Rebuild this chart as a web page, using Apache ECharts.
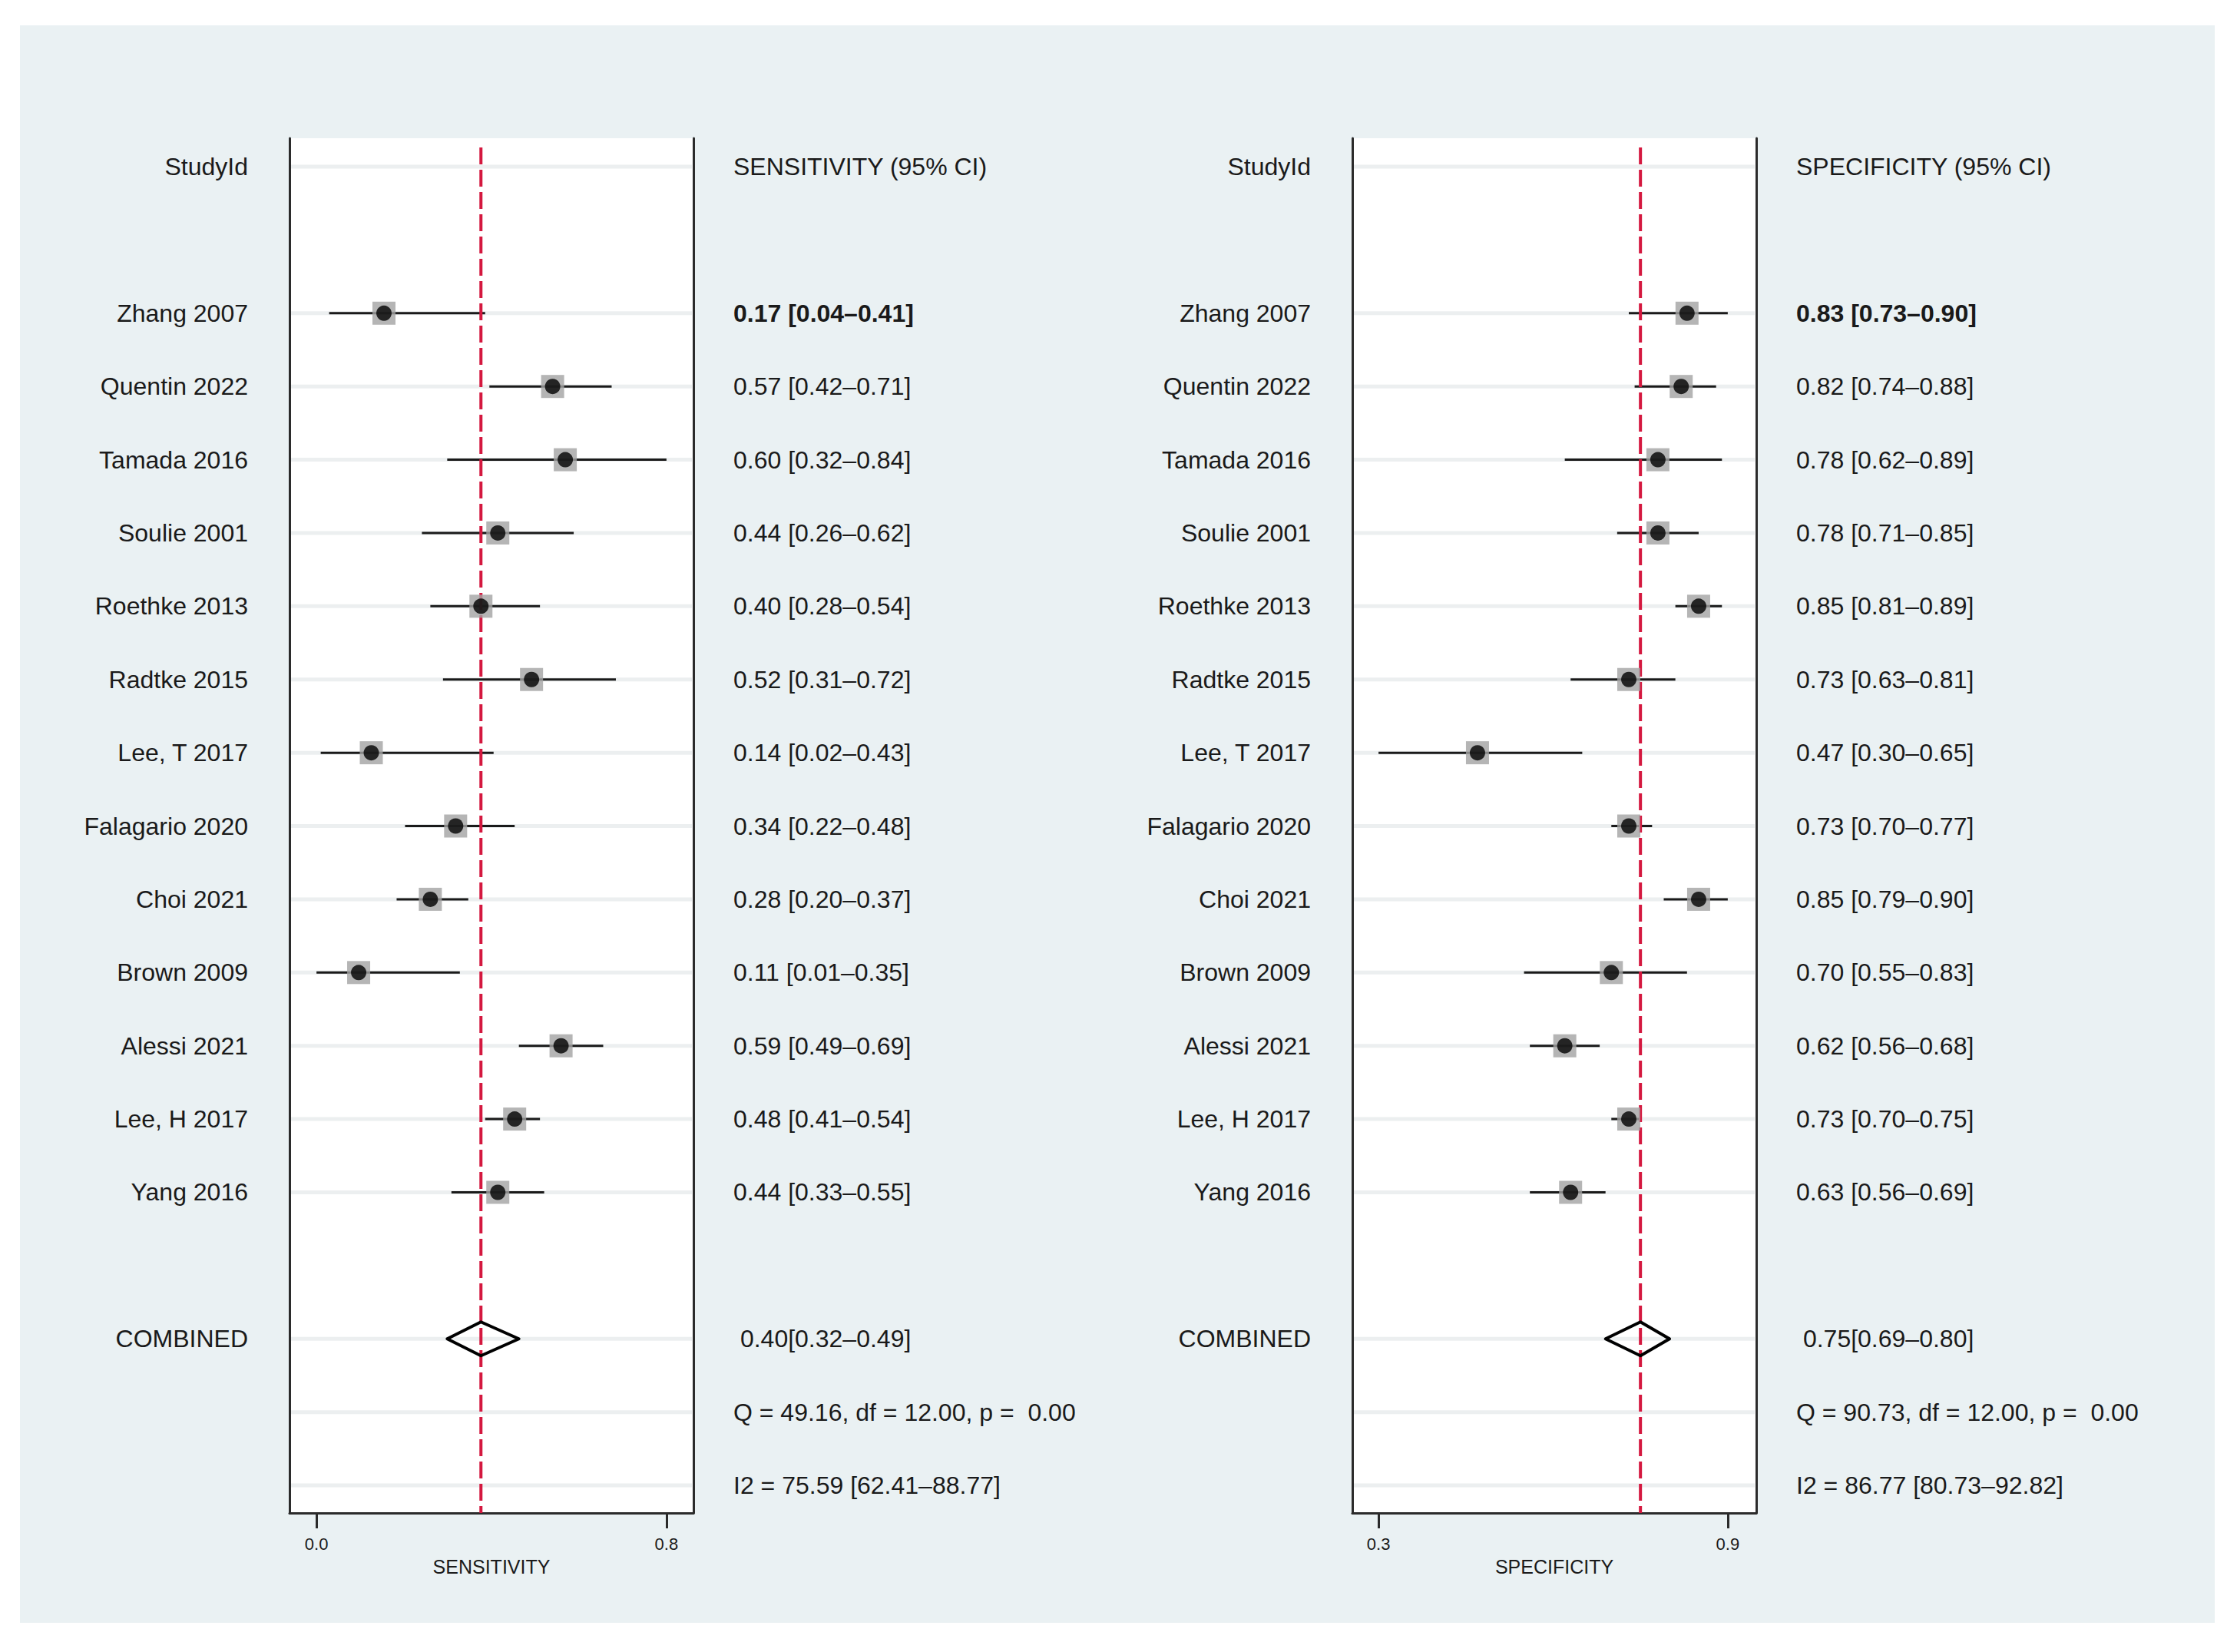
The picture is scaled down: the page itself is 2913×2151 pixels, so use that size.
<!DOCTYPE html>
<html><head><meta charset="utf-8">
<script src="https://cdn.jsdelivr.net/npm/echarts@6/dist/echarts.min.js"></script>
<style>html,body{margin:0;padding:0;background:#fff;}#chart{width:2913px;height:2151px;}</style>
</head><body><div id="chart"></div>
<script>
// ---------- data ----------
const studies = ['Zhang 2007','Quentin 2022','Tamada 2016','Soulie 2001','Roethke 2013','Radtke 2015','Lee, T 2017','Falagario 2020','Choi 2021','Brown 2009','Alessi 2021','Lee, H 2017','Yang 2016'];
const sensEst = [0.17,0.57,0.60,0.44,0.40,0.52,0.14,0.34,0.28,0.11,0.59,0.48,0.44];
const sensLo  = [0.04,0.42,0.32,0.26,0.28,0.31,0.02,0.22,0.20,0.01,0.49,0.41,0.33];
const sensHi  = [0.41,0.71,0.84,0.62,0.54,0.72,0.43,0.48,0.37,0.35,0.69,0.54,0.55];
const specEst = [0.83,0.82,0.78,0.78,0.85,0.73,0.47,0.73,0.85,0.70,0.62,0.73,0.63];
const specLo  = [0.73,0.74,0.62,0.71,0.81,0.63,0.30,0.70,0.79,0.55,0.56,0.70,0.56];
const specHi  = [0.90,0.88,0.89,0.85,0.89,0.81,0.65,0.77,0.90,0.83,0.68,0.75,0.69];
const sensPooled = [0.40,0.32,0.49];   // estimate, lower, upper
const specPooled = [0.75,0.69,0.80];
const sensQ = [49.16,12.00,0.00];      // Q, df, p
const specQ = [90.73,12.00,0.00];
const sensI2 = [75.59,62.41,88.77];
const specI2 = [86.77,80.73,92.82];
const sensTicks = [0.01,0.84];
const sensTickLabels = ['0.0','0.8'];
const specTicks = [0.30,0.90];
const specTickLabels = ['0.3','0.9'];

// ---------- layout ----------
const FONT = '"Liberation Sans", Arial, sans-serif';
const TXT = '#1a1a1a';
const ROW_HEAD = 0, ROW_COMB = 16, ROW_Q = 17, ROW_I2 = 18;
const studyRows = studies.map((_, i) => i + 2);
const contentRows = [ROW_HEAD, ...studyRows, ROW_COMB, ROW_Q, ROW_I2];
const f2 = v => v.toFixed(2);

function buildPanel(idx, cfg) {
  const yL = idx * 2;
  const leftText = r => r === ROW_HEAD ? 'StudyId' : r === ROW_COMB ? 'COMBINED' : (r >= 2 && r <= 14 ? studies[r - 2] : '');
  const rightText = r => {
    if (r === ROW_HEAD) return cfg.header;
    if (r >= 2 && r <= 14) {
      const i = r - 2;
      const s = f2(cfg.est[i]) + ' [' + f2(cfg.lo[i]) + '\u2013' + f2(cfg.hi[i]) + ']';
      return i === 0 ? '{b|' + s + '}' : s;
    }
    if (r === ROW_COMB) return ' ' + f2(cfg.pooled[0]) + '[' + f2(cfg.pooled[1]) + '\u2013' + f2(cfg.pooled[2]) + ']';
    if (r === ROW_Q) return 'Q = ' + f2(cfg.q[0]) + ', df = ' + f2(cfg.q[1]) + ', p =  ' + f2(cfg.q[2]);
    if (r === ROW_I2) return 'I2 = ' + f2(cfg.i2[0]) + ' [' + f2(cfg.i2[1]) + '\u2013' + f2(cfg.i2[2]) + ']';
    return '';
  };
  const grid = {left: cfg.left, top: 180, width: 526, height: 1790, show: true,
    backgroundColor: '#ffffff', borderWidth: 0, containLabel: false, outerBoundsMode: 'none'};
  const xAxis = {
    gridIndex: idx, type: 'value', min: cfg.min, max: cfg.max,
    splitLine: {show: false},
    axisLine: {show: true, onZero: false, lineStyle: {color: '#2b2b2b', width: 3}},
    axisTick: {show: true, customValues: cfg.ticks, length: 20, lineStyle: {color: '#2b2b2b', width: 3}},
    axisLabel: {show: true, customValues: cfg.ticks, margin: 29, fontSize: 22, fontFamily: FONT, color: TXT,
      formatter: v => { let k = 0; cfg.ticks.forEach((t, j) => { if (Math.abs(t - v) < Math.abs(cfg.ticks[k] - v)) k = j; }); return cfg.tickLabels[k]; }},
    name: cfg.axisName, nameLocation: 'middle', nameGap: 57,
    nameTextStyle: {fontSize: 25, fontFamily: FONT, color: TXT}
  };
  const yCommon = {gridIndex: idx, type: 'value', min: -0.388, max: 18.377, inverse: true, splitLine: {show: false}};
  const yLeft = Object.assign({}, yCommon, {
    position: 'left',
    axisLine: {show: true, onZero: false, lineStyle: {color: '#2b2b2b', width: 3}},
    axisTick: {show: true, inside: true, length: 6, customValues: contentRows, lineStyle: {color: '#2b2b2b', width: 2}},
    axisLabel: {show: true, customValues: [ROW_HEAD, ...studyRows, ROW_COMB], margin: 54, fontSize: 32, fontFamily: FONT, color: TXT,
      formatter: v => leftText(Math.round(v))}
  });
  const yRight = Object.assign({}, yCommon, {
    position: 'right',
    axisLine: {show: true, onZero: false, lineStyle: {color: '#2b2b2b', width: 3}},
    axisTick: {show: false},
    axisLabel: {show: true, customValues: contentRows, margin: 52, fontSize: 32, fontFamily: FONT, color: TXT, align: 'left',
      formatter: v => rightText(Math.round(v)),
      rich: {b: {fontSize: 32, fontFamily: FONT, color: TXT, fontWeight: 'bold'}}}
  });
  const base = {xAxisIndex: idx, yAxisIndex: yL, silent: true, animation: false};
  const series = [
    // light gridlines at content rows
    Object.assign({}, base, {type: 'custom', z: 1, data: contentRows.map(r => [cfg.max, r]), encode: {x: 0, y: 1},
      renderItem: (p, api) => {
        const c = api.coord([api.value(0), api.value(1)]);
        const cs = p.coordSys;
        return {type: 'line', shape: {x1: cs.x + 2, y1: c[1], x2: cs.x + cs.width - 2, y2: c[1]}, style: {stroke: '#eceff0', lineWidth: 5}};
      }}),
    // confidence intervals
    Object.assign({}, base, {type: 'custom', z: 2, data: studies.map((s, i) => [cfg.lo[i], cfg.hi[i], i + 2]), encode: {x: [0, 1], y: 2},
      renderItem: (p, api) => {
        const a = api.coord([api.value(0), api.value(2)]);
        const b = api.coord([api.value(1), api.value(2)]);
        return {type: 'line', shape: {x1: a[0], y1: a[1], x2: b[0], y2: b[1]}, style: {stroke: '#1a1a1a', lineWidth: 3}};
      }}),
    // pooled reference line
    Object.assign({}, base, {type: 'custom', z: 3, data: [[cfg.pooled[0], ROW_HEAD]], encode: {x: 0, y: 1},
      renderItem: (p, api) => {
        const c = api.coord([api.value(0), api.value(1)]);
        const cs = p.coordSys;
        return {type: 'line', shape: {x1: c[0], y1: cs.y + 12, x2: c[0], y2: cs.y + cs.height}, style: {stroke: '#d4183f', lineWidth: 4, lineDash: [22, 7]}};
      }}),
    // grey squares
    Object.assign({}, base, {type: 'scatter', z: 4, symbol: 'rect', symbolSize: 30, itemStyle: {color: '#a2a2a2'},
      data: studies.map((s, i) => [cfg.est[i], i + 2])}),
    // black dots
    Object.assign({}, base, {type: 'scatter', z: 5, symbol: 'circle', symbolSize: 20, itemStyle: {color: '#000000'},
      data: studies.map((s, i) => [cfg.est[i], i + 2])}),
    // pooled diamond
    Object.assign({}, base, {type: 'custom', z: 5, data: [[cfg.pooled[1], cfg.pooled[0], cfg.pooled[2], ROW_COMB]], encode: {x: [0, 1, 2], y: 3},
      renderItem: (p, api) => {
        const r = api.value(3);
        const l = api.coord([api.value(0), r]);
        const m = api.coord([api.value(1), r]);
        const h = api.coord([api.value(2), r]);
        const hh = 22;
        return {type: 'polygon', shape: {points: [[l[0], l[1]], [m[0], m[1] - hh], [h[0], h[1]], [m[0], m[1] + hh]]},
          style: {fill: 'none', stroke: '#000', lineWidth: 4, lineJoin: 'round'}};
      }})
  ];
  return {grid, xAxis, yAxes: [yLeft, yRight], series};
}

const P1 = buildPanel(0, {left: 377, min: -0.054, max: 0.904, ticks: sensTicks, tickLabels: sensTickLabels,
  est: sensEst, lo: sensLo, hi: sensHi, pooled: sensPooled, q: sensQ, i2: sensI2,
  header: 'SENSITIVITY (95% CI)', axisName: 'SENSITIVITY'});
const P2 = buildPanel(1, {left: 1761, min: 0.255, max: 0.949, ticks: specTicks, tickLabels: specTickLabels,
  est: specEst, lo: specLo, hi: specHi, pooled: specPooled, q: specQ, i2: specI2,
  header: 'SPECIFICITY (95% CI)', axisName: 'SPECIFICITY'});

const chart = echarts.init(document.getElementById('chart'), null, {renderer: 'svg'});
chart.setOption({
  animation: false,
  backgroundColor: '#ffffff',
  textStyle: {fontFamily: FONT},
  graphic: [{type: 'rect', z: -10, silent: true, shape: {x: 26, y: 33, width: 2858, height: 2080}, style: {fill: '#eaf1f3'}}],
  grid: [P1.grid, P2.grid],
  xAxis: [P1.xAxis, P2.xAxis],
  yAxis: [...P1.yAxes, ...P2.yAxes],
  series: [...P1.series, ...P2.series]
});
</script>
</body></html>
